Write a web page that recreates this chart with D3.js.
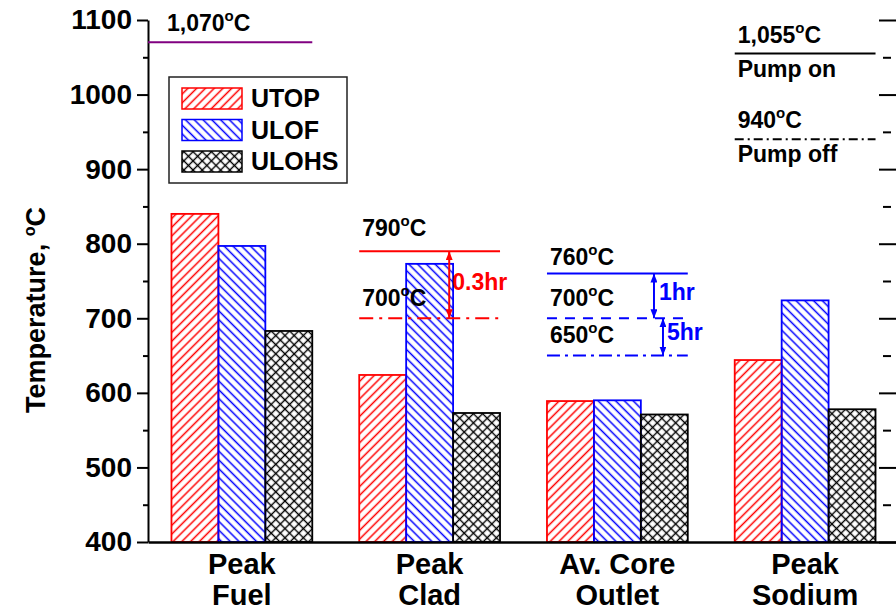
<!DOCTYPE html>
<html>
<head>
<meta charset="utf-8">
<script src="https://cdn.jsdelivr.net/npm/d3@7"></script>
<style>
  body { margin: 0; background: #fff; }
  svg { display: block; font-family: "Liberation Sans", Arial, sans-serif; font-weight: bold; }
</style>
</head>
<body>
<div id="chart"></div>
<script>
// Data
const categories = ["Peak Fuel", "Peak Clad", "Av. Core Outlet", "Peak Sodium"];
const categoryLines = [["Peak", "Fuel"], ["Peak", "Clad"], ["Av. Core", "Outlet"], ["Peak", "Sodium"]];
const series = ["UTOP", "ULOF", "ULOHS"];
const utop = [840, 624, 589, 644];
const ulof = [797, 773, 590, 724];
const ulohs = [683, 573, 571, 578];
const yTicks = [400, 500, 600, 700, 800, 900, 1000, 1100];
const yMinorTicks = [450, 550, 650, 750, 850, 950, 1050];

// limit lines
const limitCats = ["Peak Fuel", "Peak Clad", "Peak Clad", "Av. Core Outlet", "Av. Core Outlet", "Av. Core Outlet", "Peak Sodium", "Peak Sodium"];
const limitValues = [1070, 790, 700, 760, 700, 650, 1055, 940];
const limitLabels = ["1,070", "790", "700", "760", "700", "650", "1,055", "940"];
const limitNotes = ["", "", "", "", "", "", "Pump on", "Pump off"];

// time arrows between limits
const arrowCats = ["Peak Clad", "Av. Core Outlet", "Av. Core Outlet"];
const arrowFrom = [790, 760, 700];
const arrowTo = [700, 700, 650];
const arrowLabels = ["0.3hr", "1hr", "5hr"];

const width = 896;
const height = 611;
const margin = {left: 148, right: 0, top: 20, bottom: 69};

const seriesValues = [utop, ulof, ulohs];
const seriesColor = ["#ff0000", "#0000ff", "#000000"];
const seriesPattern = ["hatch-red", "hatch-blue", "cross-black"];

// line styles for each limit, in same order as limitValues
const limitStyle = [
  {color: "#800080", dash: null},
  {color: "#ff0000", dash: null},
  {color: "#ff0000", dash: "14,6,3,6"},
  {color: "#0000ff", dash: null},
  {color: "#0000ff", dash: "10,8"},
  {color: "#0000ff", dash: "13,5,3,5"},
  {color: "#000000", dash: null},
  {color: "#000000", dash: "9,4,2,4"}
];
const labelRaise = [11, 15, 12, 9, 12, 13, 11, 11];
const arrowColor = ["#ff0000", "#0000ff", "#0000ff"];
const arrowOffset = [90, 107, 116];
const arrowLabelPos = [{dx: 93, y: 290}, {dx: 112, y: 300}, {dx: 120, y: 340}];

const svg = d3.select("#chart")
  .append("svg")
  .attr("width", width)
  .attr("height", height);

// Patterns
const defs = svg.append("defs");

function hatch(id, color, angle, size, w) {
  const p = defs.append("pattern")
    .attr("id", id)
    .attr("patternUnits", "userSpaceOnUse")
    .attr("width", size).attr("height", size)
    .attr("patternTransform", `rotate(${angle})`);
  p.append("line")
    .attr("x1", size / 2).attr("y1", -1).attr("x2", size / 2).attr("y2", size + 1)
    .attr("stroke", color).attr("stroke-width", w);
  return p;
}
hatch("hatch-red", "#ff0000", 45, 6.2, 1.5);
hatch("hatch-blue", "#0000ff", -45, 6.2, 1.5);
hatch("cross-black", "#000000", 45, 6.5, 1.4)
  .append("line")
    .attr("x1", -1).attr("y1", 3.25).attr("x2", 7.5).attr("y2", 3.25)
    .attr("stroke", "#000").attr("stroke-width", 1.4);

// arrow heads
arrowColor.forEach((c, i) => {
  defs.append("marker")
    .attr("id", "arrow" + i)
    .attr("viewBox", "0 0 10 10")
    .attr("refX", 10).attr("refY", 5)
    .attr("markerUnits", "userSpaceOnUse")
    .attr("markerWidth", 9).attr("markerHeight", 7)
    .attr("preserveAspectRatio", "none")
    .attr("orient", "auto-start-reverse")
    .append("path")
      .attr("d", "M0,0 L10,5 L0,10 z")
      .attr("fill", c);
});

/*
  Scales
*/
const y = d3.scaleLinear()
  .domain([400, 1100])
  .range([height - margin.bottom, margin.top]);

const x = d3.scaleBand()
  .domain(categories)
  .range([margin.left, 899])
  .paddingInner(0.25)
  .paddingOuter(0.125);

const xs = d3.scaleBand()
  .domain(series)
  .range([0, x.bandwidth()]);

/*
  Bars
*/
series.forEach((s, si) => {
  svg.append("g").selectAll("rect")
    .data(categories)
    .enter()
    .append("rect")
      .attr("x", c => x(c) + xs(s))
      .attr("y", (c, i) => y(seriesValues[si][i]))
      .attr("width", xs.bandwidth())
      .attr("height", (c, i) => y(400) - y(seriesValues[si][i]))
      .attr("fill", `url(#${seriesPattern[si]})`)
      .attr("stroke", seriesColor[si])
      .attr("stroke-width", 1.8);
});

/*
  Axes
*/
const yAxis = svg.append("g")
  .attr("transform", `translate(${margin.left},0)`)
  .call(d3.axisLeft(y).tickValues(yTicks).tickFormat(d3.format("d"))
    .tickSize(11).tickSizeOuter(0).tickPadding(5));
yAxis.select(".domain").attr("stroke-width", 2);
yAxis.selectAll(".tick line").attr("stroke-width", 2);
yAxis.selectAll("text")
  .attr("font-size", "28px")
  .attr("font-weight", "bold")
  .attr("font-family", "Liberation Sans, Arial, sans-serif")
  .attr("fill", "#000");

const yMinor = svg.append("g")
  .attr("transform", `translate(${margin.left},0)`)
  .call(d3.axisLeft(y).tickValues(yMinorTicks).tickSize(5).tickFormat(""));
yMinor.select(".domain").remove();
yMinor.selectAll(".tick line").attr("stroke-width", 2);

// right side ticks
const rAxis = svg.append("g")
  .attr("transform", "translate(879,0)")
  .call(d3.axisRight(y).tickValues(yTicks).tickSize(17).tickFormat(""));
rAxis.select(".domain").remove();
rAxis.selectAll(".tick line").attr("stroke-width", 2);
const rMinor = svg.append("g")
  .attr("transform", "translate(883,0)")
  .call(d3.axisRight(y).tickValues(yMinorTicks).tickSize(8).tickFormat(""));
rMinor.select(".domain").remove();
rMinor.selectAll(".tick line").attr("stroke-width", 2);

// bottom axis with two line labels
const xAxis = svg.append("g")
  .attr("transform", `translate(0,${height - margin.bottom})`)
  .call(d3.axisBottom(x).tickSize(0).tickSizeOuter(0).tickFormat(""));
xAxis.select(".domain").attr("stroke-width", 2.5);
xAxis.selectAll(".tick text").remove();
xAxis.selectAll(".tick").each(function(c) {
  categoryLines[categories.indexOf(c)].forEach((line, li) => {
    d3.select(this).append("text")
      .attr("fill", "#000")
      .attr("font-size", "29px")
      .attr("font-weight", "bold")
      .attr("font-family", "Liberation Sans, Arial, sans-serif")
      .attr("text-anchor", "middle")
      .attr("y", 32 + li * 31)
      .text(line);
  });
});

// degree label helper: number, raised small "o", then C
function degree(sel, num, supSize, raise) {
  sel.append("tspan").text(num);
  sel.append("tspan").attr("dy", -raise).attr("font-size", supSize + "px").text("o");
  sel.append("tspan").attr("dy", raise).text("C");
}

// y title
const yTitle = svg.append("text")
  .attr("transform", "translate(45,310) rotate(-90)")
  .attr("text-anchor", "middle")
  .attr("font-size", "27px");
yTitle.append("tspan").text("Temperature, ");
degree(yTitle.append("tspan"), "", 16, 10);

/*
  Limit lines and labels
*/
limitValues.forEach((v, i) => {
  const st = limitStyle[i];
  const x0 = i === 0 ? margin.left : x(limitCats[i]);
  const x1 = x(limitCats[i]) + x.bandwidth();
  svg.append("line")
    .attr("x1", x0).attr("x2", x1)
    .attr("y1", y(v)).attr("y2", y(v))
    .attr("stroke", st.color)
    .attr("stroke-width", 2)
    .attr("stroke-dasharray", st.dash);

  const lx = i === 0 ? margin.left + 19 : x(limitCats[i]) + 3;
  const lab = svg.append("text")
    .attr("x", lx)
    .attr("y", y(v) - labelRaise[i])
    .attr("font-size", "23px")
    .attr("fill", "#000");
  degree(lab, limitLabels[i], 15, 10);

  if (limitNotes[i]) {
    svg.append("text")
      .attr("x", lx)
      .attr("y", y(v) + 23)
      .attr("font-size", "23px")
      .attr("fill", "#000")
      .text(limitNotes[i]);
  }
});

/*
  Arrows
*/
arrowFrom.forEach((v, i) => {
  const ax = x(arrowCats[i]) + arrowOffset[i];
  svg.append("line")
    .attr("x1", ax).attr("x2", ax)
    .attr("y1", y(v)).attr("y2", y(arrowTo[i]))
    .attr("stroke", arrowColor[i])
    .attr("stroke-width", 2)
    .attr("marker-start", `url(#arrow${i})`)
    .attr("marker-end", `url(#arrow${i})`);
  svg.append("text")
    .attr("x", x(arrowCats[i]) + arrowLabelPos[i].dx)
    .attr("y", arrowLabelPos[i].y)
    .attr("font-size", "23px")
    .attr("fill", arrowColor[i])
    .text(arrowLabels[i]);
});

/*
  Legend
*/
const legend = svg.append("g");
legend.append("rect")
  .attr("x", 169).attr("y", 77)
  .attr("width", 178).attr("height", 106)
  .attr("fill", "#fff")
  .attr("stroke", "#222")
  .attr("stroke-width", 1.5);
series.forEach((s, i) => {
  legend.append("rect")
    .attr("x", 182).attr("y", 88 + i * 31.5)
    .attr("width", 60).attr("height", 21)
    .attr("fill", `url(#${seriesPattern[i]})`)
    .attr("stroke", seriesColor[i])
    .attr("stroke-width", 1.5);
  legend.append("text")
    .attr("x", 251).attr("y", 107 + i * 31.5)
    .attr("font-size", "25px")
    .attr("fill", "#000")
    .text(s);
});
</script>
</body>
</html>
